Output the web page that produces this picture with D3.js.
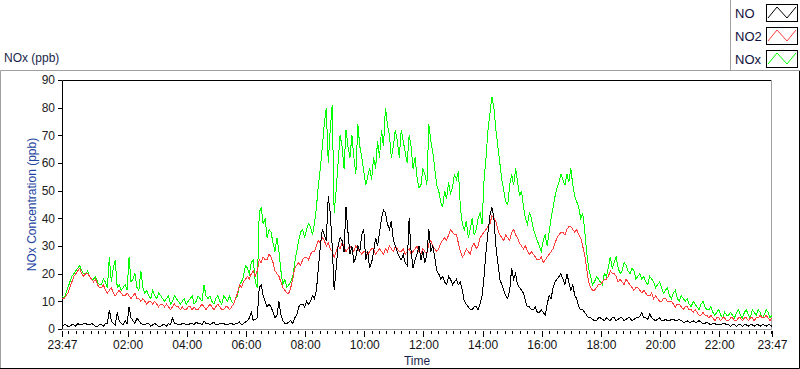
<!DOCTYPE html>
<html>
<head>
<meta charset="utf-8">
<script src="https://cdn.jsdelivr.net/npm/d3@7"></script>
<style>
    body { margin: 0; background: #fff; }
    svg text { font-family: "Liberation Sans", Arial, sans-serif; }
</style>
</head>
<body>
<div class="graph"></div>
<script>
// one sample every 4 minutes, 23:47 -> 23:47 next day
var noxValues = [
    12, 11, 13, 15, 17, 19, 20, 21, 22, 23, 21, 20, 20, 21, 19, 18, 18, 19, 17, 16,
    16, 18, 17, 15, 26, 17, 22, 25, 15, 16, 14, 15, 16, 14, 26, 17, 18, 20, 15, 14,
    21, 15, 13, 14, 12, 11, 14, 12, 11, 13, 12, 11, 10, 11, 12, 9, 10, 12, 11, 10,
    9, 10, 11, 9, 10, 11, 12, 9, 10, 12, 11, 10, 16, 12, 11, 12, 10, 9, 11, 12,
    10, 9, 12, 11, 10, 12, 10, 9, 11, 12, 16, 17, 19, 23, 22, 20, 24, 25, 17, 15,
    42, 44, 38, 40, 33, 36, 35, 31, 28, 33, 28, 21, 16, 18, 15, 16, 17, 19, 24, 28,
    32, 35, 36, 33, 36, 38, 37, 34, 38, 44, 52, 58, 66, 74, 80, 60, 72, 81, 42, 50,
    60, 70, 66, 58, 72, 66, 62, 70, 62, 56, 74, 66, 62, 57, 52, 55, 58, 54, 62, 58,
    68, 62, 72, 66, 80, 74, 70, 62, 66, 72, 68, 62, 72, 68, 64, 60, 70, 66, 58, 62,
    55, 51, 52, 58, 56, 52, 74, 68, 64, 58, 52, 50, 46, 44, 50, 47, 53, 49, 51, 56,
    54, 57, 44, 38, 36, 39, 33, 36, 40, 34, 36, 40, 42, 38, 54, 62, 72, 78, 84, 80,
    72, 66, 60, 54, 50, 46, 45, 52, 56, 52, 58, 53, 48, 50, 44, 40, 38, 42, 40, 36,
    34, 32, 30, 28, 32, 34, 30, 35, 40, 44, 48, 51, 53, 56, 54, 52, 56, 53, 58, 52,
    48, 46, 44, 40, 42, 36, 28, 22, 19, 16, 17, 19, 18, 17, 16, 20, 19, 22, 26, 22,
    24, 26, 22, 20, 21, 24, 23, 21, 20, 22, 21, 18, 19, 20, 18, 19, 17, 16, 19, 18,
    17, 15, 16, 17, 15, 13, 14, 15, 12, 11, 13, 14, 11, 10, 12, 11, 10, 11, 9, 8,
    10, 9, 8, 7, 9, 10, 8, 7, 7, 8, 6, 5, 6, 7, 5, 4, 6, 5, 5, 6,
    5, 4, 6, 7, 5, 4, 6, 7, 5, 4, 7, 6, 5, 7, 6, 4, 5, 7, 6, 4,
    5
];

var no2Values = [
    11, 11, 12, 13, 15, 17, 19, 20, 21, 22, 20, 19, 20, 20, 19, 18, 17, 18, 16, 15,
    15, 16, 14, 13, 14, 15, 13, 12, 13, 14, 13, 12, 12, 13, 12, 11, 12, 13, 11, 11,
    10, 11, 10, 9, 10, 10, 9, 10, 9, 8, 9, 9, 8, 9, 8, 7, 8, 9, 8, 8,
    7, 8, 7, 7, 8, 8, 7, 8, 7, 7, 8, 9, 8, 7, 8, 9, 8, 7, 8, 9,
    8, 7, 7, 8, 8, 7, 8, 9, 11, 13, 16, 15, 17, 18, 19, 18, 20, 21, 19, 21,
    25, 24, 26, 25, 25, 27, 26, 24, 21, 20, 19, 17, 15, 14, 13, 13, 15, 18, 22, 23,
    24, 23, 25, 26, 26, 25, 27, 28, 28, 30, 32, 31, 33, 32, 30, 31, 29, 28, 26, 28,
    30, 29, 31, 30, 28, 29, 30, 29, 28, 30, 29, 28, 27, 28, 28, 27, 28, 29, 29, 27,
    28, 29, 28, 27, 29, 28, 30, 29, 28, 30, 29, 28, 28, 29, 27, 28, 29, 27, 28, 29,
    30, 28, 27, 29, 28, 27, 31, 32, 30, 29, 28, 29, 31, 32, 33, 32, 34, 36, 35, 34,
    34, 31, 28, 26, 27, 29, 28, 27, 30, 31, 29, 30, 33, 34, 35, 36, 37, 38, 41, 40,
    39, 36, 34, 33, 32, 34, 33, 32, 35, 36, 34, 33, 31, 30, 29, 30, 28, 27, 28, 27,
    26, 25, 25, 26, 24, 25, 26, 27, 28, 29, 31, 33, 34, 35, 35, 34, 36, 37, 37, 36,
    35, 36, 34, 33, 30, 27, 22, 17, 15, 14, 14, 15, 16, 16, 17, 18, 18, 19, 21, 20,
    20, 19, 17, 18, 17, 16, 18, 17, 16, 15, 14, 15, 15, 14, 13, 14, 13, 12, 12, 13,
    11, 12, 11, 10, 10, 11, 11, 10, 10, 10, 9, 8, 9, 9, 8, 7, 8, 8, 7, 7,
    6, 7, 6, 5, 5, 6, 5, 5, 4, 5, 4, 3, 4, 4, 3, 4, 4, 3, 3, 4,
    4, 3, 3, 4, 4, 3, 4, 4, 3, 4, 4, 3, 4, 4, 5, 4, 4, 5, 4, 3,
    4
];

var noValues = [
    1, 1.5, 1.5, 1, 1, 1.5, 1.5, 1, 2, 1.5, 1.5, 2, 2, 1.5, 1.5, 2, 1.5, 1, 1, 1.5,
    1.5, 1, 2, 2, 7, 3, 2, 1.5, 6, 3, 2, 1.5, 3, 2, 8, 4, 3, 2, 4, 3,
    2, 1.5, 1.5, 2, 2, 1, 1.5, 2, 1.5, 1, 1, 1.5, 1.5, 1, 2, 1.5, 4, 2, 2, 1.5,
    1.5, 2, 2, 1.5, 1.5, 2, 2, 1.5, 2.5, 2, 2, 1.5, 3, 2, 2, 1.5, 2, 2.5, 1.5, 1.5,
    2, 2, 2, 1.5, 1.5, 2, 2, 1.5, 2, 2, 2.5, 1.5, 2, 2.5, 3, 4, 6, 3, 3.5, 4,
    15, 16, 12, 10, 8, 9, 8, 6, 4, 5, 10, 5, 3, 2, 2, 2.5, 3, 2, 4, 5,
    8, 9, 9, 8, 10, 9, 10, 12, 11, 14, 22, 30, 36, 34, 32, 48, 42, 30, 14, 22,
    30, 33, 32, 28, 44, 35, 27, 30, 24, 26, 30, 28, 34, 36, 25, 28, 22, 24, 28, 33,
    30, 35, 40, 43, 42, 38, 36, 39, 32, 30, 28, 26, 25, 27, 24, 23, 40, 28, 22, 25,
    27, 30, 25, 28, 24, 27, 36, 28, 30, 26, 21, 20, 18, 19, 17, 16, 19, 18, 16, 17,
    18, 16, 17, 14, 10, 9, 8, 7, 7, 8, 8, 7, 9, 12, 19, 28, 35, 41, 44, 40,
    30, 24, 18, 16, 14, 12, 11, 14, 22, 18, 20, 16, 15, 14, 13, 10, 8, 8, 7, 7,
    8, 6, 6, 7, 6, 5, 9, 12, 11, 15, 17, 18, 19, 20, 18, 16, 20, 17, 14, 16,
    12, 11, 8, 7, 7, 6, 5, 4, 4, 3.5, 3, 3, 4, 4, 3.5, 3, 4, 3.5, 3, 4,
    4, 3, 3.5, 4, 4, 3, 3.5, 4, 4, 3, 3.5, 4, 4, 4.5, 6, 4, 4, 3.5, 5.5, 4,
    3.5, 3, 3.5, 4, 3, 3, 3.5, 3, 3, 3.5, 3.5, 3, 3, 3.5, 3, 2.5, 2.5, 3, 2.5, 2.5,
    3, 2.5, 2.5, 3, 2.5, 2, 2, 2.5, 2, 1.5, 2, 2, 1.5, 1.5, 1.5, 2, 2, 1.5, 1.5, 1,
    1.5, 1.5, 1, 1.5, 1.5, 1, 1.5, 1.5, 1, 1.5, 1.5, 1, 1.5, 1.5, 1, 1.5, 1.5, 1, 1.5, 1.5,
    1
];

var seriesNames = ['NO', 'NO2', 'NOx'];
var seriesColors = ['#000000', '#ff3c3c', '#00ff00'];
var yTickValues = [0, 10, 20, 30, 40, 50, 60, 70, 80, 90];
var xTickLabels = ['02:00', '04:00', '06:00', '08:00', '10:00', '12:00',
    '14:00', '16:00', '18:00', '20:00', '22:00'];

var width = 800,
    height = 369;

var start = new Date(2015, 5, 1, 23, 47),
    stepMinutes = 4;

var times = noxValues.map(function (d, i) {
    return d3.timeMinute.offset(start, i * stepMinutes)
});
var end = times[times.length - 1];

var parseHM = d3.timeParse('%Y-%m-%d %H:%M');
var majorTicks = [start].concat(xTickLabels.map(function (s) {
    return parseHM('2015-06-02 ' + s)
}), [end]);
var minorTicks = d3.timeMinute.every(15).range(start, end);

var x = d3.scaleTime()
    .domain([start, end])
    .range([62, 772]);

var y = d3.scaleLinear()
    .domain([0, 90])
    .range([329, 80]);

var svg = d3.select('.graph').append('svg')
    .attr('width', width)
    .attr('height', height);

// outer panel frame
svg.append('path').attr('d', 'M0.5,369V70.5H731')
    .attr('fill', 'none').attr('stroke', '#a0a0a0');
svg.append('path').attr('d', 'M0,368.5H799.5V71')
    .attr('fill', 'none').attr('stroke', '#000');

// legend box
svg.append('path').attr('d', 'M730.5,0V70.5H800')
    .attr('fill', 'none').attr('stroke', '#a0a0a0');

// plot frame
svg.append('path').attr('d', 'M62.5,329V80.5H772')
    .attr('fill', 'none').attr('stroke', '#000');
svg.append('path').attr('d', 'M771.5,80V329.5H62')
    .attr('fill', 'none').attr('stroke', '#a0a0a0');

var line = d3.line()
    .x(function (d, i) { return x(times[i]) })
    .y(function (d) { return y(d) });

// green under red under black
var plot = svg.append('g');
[noxValues, no2Values, noValues].forEach(function (vals, k) {
    plot.append('path')
        .datum(vals)
        .attr('d', line)
        .attr('fill', 'none')
        .attr('stroke', seriesColors[2 - k])
        .attr('stroke-width', 1)
        .attr('shape-rendering', 'crispEdges');
});

// y axis
var yAxis = svg.append('g')
    .attr('transform', 'translate(62,0)')
    .call(d3.axisLeft(y).tickValues(yTickValues).tickSize(4).tickPadding(3));
yAxis.select('.domain').remove();
yAxis.selectAll('text').attr('font-size', 12).attr('fill', '#222')
    .attr('font-family', '"Liberation Sans", Arial, sans-serif');

// x axis, minor then major ticks
var xMinor = svg.append('g')
    .attr('transform', 'translate(0,331)')
    .call(d3.axisBottom(x).tickValues(minorTicks).tickSize(3).tickFormat(''));
xMinor.select('.domain').remove();

var xMajor = svg.append('g')
    .attr('transform', 'translate(0,331)')
    .call(d3.axisBottom(x).tickValues(majorTicks).tickSize(6).tickPadding(3)
        .tickFormat(d3.timeFormat('%H:%M')));
xMajor.select('.domain').remove();
xMajor.selectAll('text').attr('font-size', 12).attr('fill', '#111')
    .attr('font-family', '"Liberation Sans", Arial, sans-serif');

svg.selectAll('.tick line').attr('shape-rendering', 'crispEdges');

// titles
svg.append('text')
    .attr('x', 4).attr('y', 62)
    .attr('font-size', 12).attr('fill', '#1a1f4a')
    .text('NOx (ppb)');

svg.append('text')
    .attr('transform', 'translate(36,' + ((80 + 329) / 2) + ') rotate(-90)')
    .attr('text-anchor', 'middle')
    .attr('font-size', 12).attr('fill', '#2244a0')
    .text('NOx Concentration (ppb)');

svg.append('text')
    .attr('x', (62 + 772) / 2).attr('y', 365)
    .attr('text-anchor', 'middle')
    .attr('font-size', 12).attr('fill', '#1a1f4a')
    .text('Time');

// legend
var legend = svg.append('g');
seriesNames.forEach(function (name, i) {
    var top = 4 + i * 23;
    legend.append('text')
        .attr('x', 735).attr('y', top + 14)
        .attr('font-size', 13).attr('fill', '#101040')
        .text(name);
    legend.append('rect')
        .attr('x', 766.5).attr('y', top + 0.5)
        .attr('width', 31).attr('height', 17)
        .attr('fill', '#fff').attr('stroke', '#000');
    legend.append('polyline')
        .attr('points', [[768, top + 14], [777, top + 3], [787, top + 14], [796, top + 3]].join(' '))
        .attr('fill', 'none')
        .attr('stroke', seriesColors[i]);
});
</script>
</body>
</html>
